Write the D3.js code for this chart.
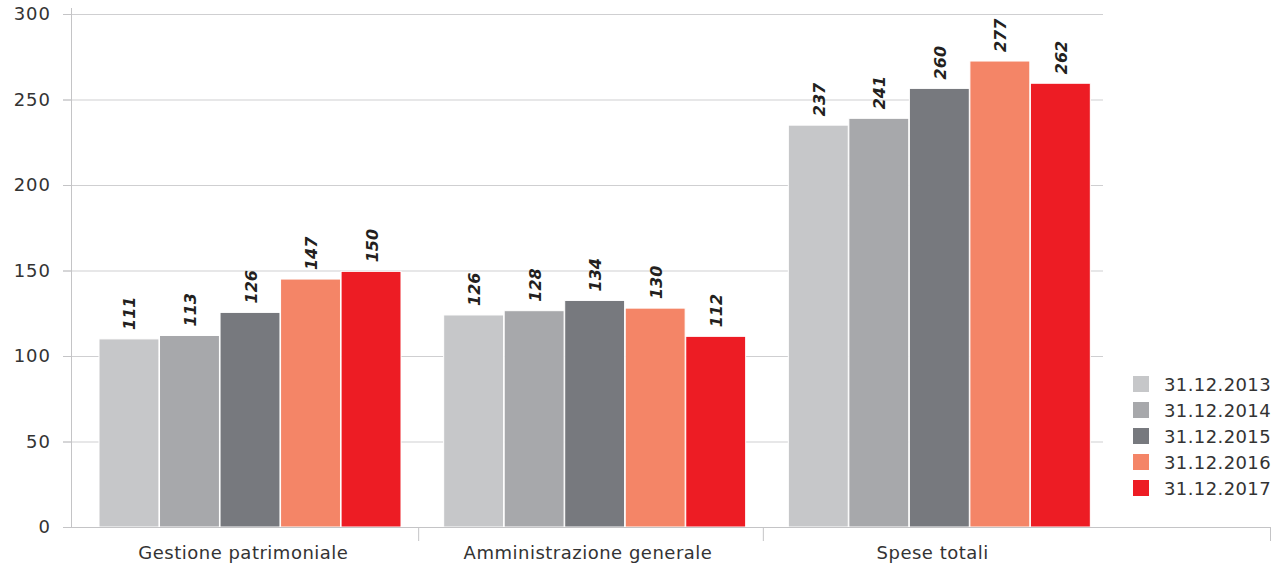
<!DOCTYPE html>
<html>
<head>
  <meta charset="utf-8">
  <title>Spese</title>
  <script src="https://cdn.jsdelivr.net/npm/d3@7"></script>
  <style>
    body { margin: 0; background: #fff; }
    text { font-family: "DejaVu Sans", sans-serif; }
  </style>
</head>
<body>
<script>
// data
var categories = ["Gestione patrimoniale", "Amministrazione generale", "Spese totali"];
var series = ["31.12.2013", "31.12.2014", "31.12.2015", "31.12.2016", "31.12.2017"];
var colors = ["#c6c7c9", "#a7a8ab", "#77797e", "#f48567", "#ed1c24"];
// bar heights as drawn
var val2013 = [110, 124, 235];
var val2014 = [112, 126.5, 239];
var val2015 = [125.5, 132.5, 256.5];
var val2016 = [145, 128, 272.5];
var val2017 = [149.5, 111.5, 259.5];
// printed labels
var lab2013 = [111, 126, 237];
var lab2014 = [113, 128, 241];
var lab2015 = [126, 134, 260];
var lab2016 = [147, 130, 277];
var lab2017 = [150, 112, 262];
var yTicks = [0, 50, 100, 150, 200, 250, 300];

var values = [val2013, val2014, val2015, val2016, val2017];
var labels = [lab2013, lab2014, lab2015, lab2016, lab2017];

var width = 1284, height = 567;
var svg = d3.select("body").append("svg").attr("width", width).attr("height", height);

var y = d3.scaleLinear().domain([0, 300]).range([527, 14]);
var x0 = d3.scaleBand().domain(categories).range([74, 1108]);
var x1 = d3.scaleBand().domain(series).range([25, 327]).paddingInner(0.01);

// gridlines
svg.append("g")
  .selectAll("line").data(yTicks.slice(1)).join("line")
  .attr("x1", 63).attr("x2", 1103)
  .attr("y1", function(d) { return y(d) + 0.5; })
  .attr("y2", function(d) { return y(d) + 0.5; })
  .attr("stroke", "#cfcfd1").attr("stroke-width", 1);

// y axis
var axisY = svg.append("g")
  .attr("transform", "translate(72,0)")
  .call(d3.axisLeft(y).tickValues(yTicks).tickSize(9).tickPadding(12));
axisY.select(".domain").remove();
axisY.selectAll(".tick line").attr("stroke", "#c4c4c6");
axisY.selectAll(".tick text")
  .attr("font-size", "18px").attr("fill", "#333").attr("letter-spacing", "1px")
  .attr("font-family", "'DejaVu Sans', sans-serif");
svg.append("line").attr("x1", 71.5).attr("x2", 71.5).attr("y1", 8).attr("y2", 527)
  .attr("stroke", "#c4c4c6");

// bars
var groups = svg.append("g").selectAll("g").data(categories).join("g")
  .attr("transform", function(d) { return "translate(" + x0(d) + ",0)"; });

function rows(c, ci) {
  return series.map(function(s, si) { return { s: s, i: si, v: values[si][ci], l: labels[si][ci] }; });
}

groups.selectAll("rect").data(rows).join("rect")
  .attr("x", function(d) { return x1(d.s); })
  .attr("width", x1.bandwidth())
  .attr("y", function(d) { return y(d.v); })
  .attr("height", function(d) { return y(0) - y(d.v); })
  .attr("fill", function(d) { return colors[d.i]; })
  .attr("stroke", "#fff").attr("stroke-width", 1);

groups.selectAll("text").data(rows).join("text")
  .attr("transform", function(d) {
    return "translate(" + (x1(d.s) + x1.bandwidth() / 2 + 6.5) + "," + (y(d.v) - 9) + ") rotate(-90)";
  })
  .attr("font-size", "16px").attr("font-weight", "bold").attr("font-style", "italic")
  .attr("fill", "#231f20")
  .text(function(d) { return d.l; });

// x axis baseline and separators
svg.append("line").attr("x1", 63).attr("x2", 1271).attr("y1", 527.5).attr("y2", 527.5)
  .attr("stroke", "#c4c4c6");
var seps = categories.slice(1).map(function(c) { return x0(c); }).concat([1270.5]);
svg.append("g").selectAll("line").data(seps).join("line")
  .attr("x1", function(d) { return d; }).attr("x2", function(d) { return d; })
  .attr("y1", 527).attr("y2", 541)
  .attr("stroke", "#c4c4c6");

svg.append("g").selectAll("text").data(categories).join("text")
  .attr("x", function(d) { return x0(d) + x0.bandwidth() / 2 - 3; })
  .attr("y", 559)
  .attr("text-anchor", "middle")
  .attr("font-size", "18px").attr("letter-spacing", "0.5px").attr("fill", "#333")
  .text(function(d) { return d; });

// legend
var legend = svg.append("g").selectAll("g").data(series).join("g")
  .attr("transform", function(d, i) { return "translate(1133," + (376 + i * 26) + ")"; });
legend.append("rect").attr("width", 16).attr("height", 16)
  .attr("fill", function(d, i) { return colors[i]; });
legend.append("text").attr("x", 31).attr("y", 14.5)
  .attr("font-size", "18px").attr("letter-spacing", "0.4px").attr("fill", "#333")
  .text(function(d) { return d; });
</script>
</body>
</html>
